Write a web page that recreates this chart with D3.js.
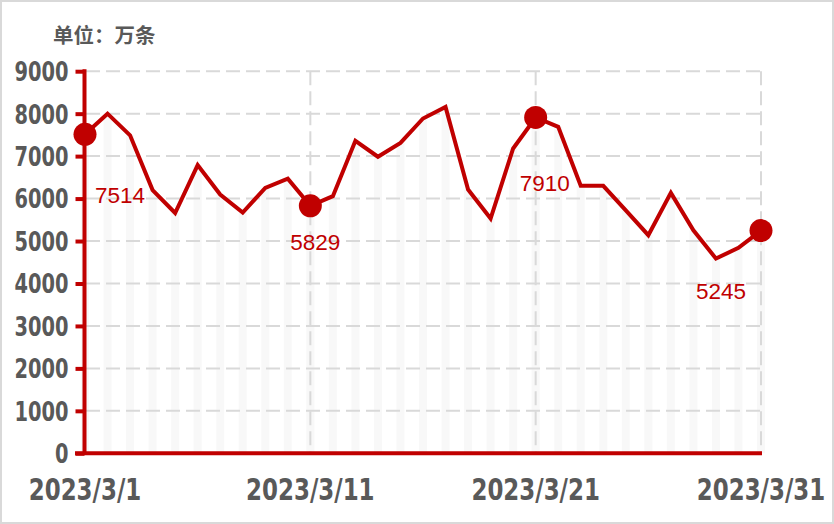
<!DOCTYPE html>
<html><head><meta charset="utf-8">
<script src="https://cdn.jsdelivr.net/npm/d3@7/dist/d3.min.js"></script>
<style>
html,body{margin:0;padding:0;background:#fff;}
svg{display:block;}
</style></head>
<body><svg id="c" width="834" height="524"></svg>
<script>
const days = d3.range(1, 32);
const values = [7514,8000,7490,6200,5660,6790,6095,5670,6250,6470,5829,6056,7360,6985,7312,7886,8160,6213,5530,7180,7910,7690,6300,6300,5720,5137,6134,5254,4587,4838,5245];
const highlightDays = [1, 11, 21, 31];
const yTicks = [0,1000,2000,3000,4000,5000,6000,7000,8000,9000];
const xTickDays = [1, 11, 21, 31];
const unitLabel = "单位：万条";

const red = "#c00000", grey = "#595959", grid = "#d9d9d9";
const condensed = "'Liberation Sans Narrow','DejaVu Sans Condensed','DejaVu Sans',sans-serif";
const svg = d3.select("#c");

// outer border
svg.append("rect").attr("x",1).attr("y",1).attr("width",832).attr("height",522)
  .attr("fill","#fff").attr("stroke","#d9d9d9").attr("stroke-width",2);

const x = d3.scaleLinear().domain([1,31]).range([85,761]);
const y = d3.scaleLinear().domain([0,9000]).range([453.3,71.2]);

// faint bars
svg.append("g").selectAll("rect").data(days).join("rect")
  .attr("x",d=>x(d)-4).attr("width",8)
  .attr("y",(d,i)=>y(values[i])).attr("height",(d,i)=>y(0)-y(values[i]))
  .attr("fill","#f3f3f3").attr("opacity",0.55);

// horizontal dashed grid
svg.append("g").selectAll("line").data(yTicks.filter(d=>d>0)).join("line")
  .attr("x1",86).attr("x2",x(31)).attr("y1",d=>y(d)).attr("y2",d=>y(d))
  .attr("stroke",grid).attr("stroke-width",2).attr("stroke-dasharray","14,6");
// vertical dashed grid
svg.append("g").selectAll("line").data(xTickDays.slice(1)).join("line")
  .attr("x1",d=>x(d)).attr("x2",d=>x(d)).attr("y1",y(9000)).attr("y2",y(0))
  .attr("stroke",grid).attr("stroke-width",2).attr("stroke-dasharray","14,6");

// y axis
const yAxis = d3.axisLeft(y).tickValues(yTicks).tickSize(9).tickPadding(7).tickFormat(d3.format("d"));
const gy = svg.append("g").attr("transform","translate(84.5,0)").call(yAxis);
gy.select(".domain").attr("stroke",red).attr("stroke-width",4).attr("d",`M0,${y(9000)-2}V${y(0)}`);
gy.selectAll(".tick line").attr("stroke",red).attr("stroke-width",4);
gy.selectAll(".tick text").attr("fill",grey)
  .style("font-family",condensed)
  .style("font-weight","bold").style("font-size","26px").attr("dy","0.36em")
  .attr("x",0).attr("transform","translate(-16,0) scale(0.83,1)");

// x axis
svg.append("line").attr("x1",75).attr("x2",x(31)+1).attr("y1",y(0)).attr("y2",y(0))
  .attr("stroke",red).attr("stroke-width",4);
const fmt = d=>`2023/3/${d}`;
svg.append("g").selectAll("text").data(xTickDays).join("text")
  .attr("transform",d=>`translate(${x(d)},500) scale(0.85,1)`)
  .attr("text-anchor","middle")
  .attr("fill",grey)
  .style("font-family",condensed)
  .style("font-weight","bold").style("font-size","30px")
  .text(fmt);

// line
const line = d3.line().x(d=>x(d)).y((d,i)=>y(values[i]));
svg.append("path").datum(days).attr("d",line)
  .attr("fill","none").attr("stroke",red).attr("stroke-width",4).attr("stroke-linejoin","miter");

// dots
svg.append("g").selectAll("circle").data(highlightDays).join("circle")
  .attr("cx",d=>x(d)).attr("cy",d=>y(values[d-1])).attr("r",11.5).attr("fill",red);

// value labels
const labelOffsets = [[35,69],[5,44],[9,74],[-40,68]];
svg.append("g").selectAll("text").data(highlightDays).join("text")
  .attr("x",(d,i)=>x(d)+labelOffsets[i][0]).attr("y",(d,i)=>y(values[d-1])+labelOffsets[i][1])
  .attr("text-anchor","middle").attr("fill",red)
  .style("font-family","'Liberation Sans','Noto Sans',sans-serif").style("font-size","22.5px")
  .text(d=>values[d-1]);

// unit label
svg.append("text").attr("x",53).attr("y",43).attr("fill",grey)
  .style("font-family","'Noto Sans CJK SC',sans-serif").style("font-weight","bold").style("font-size","20.5px")
  .text(unitLabel);
</script></body></html>
